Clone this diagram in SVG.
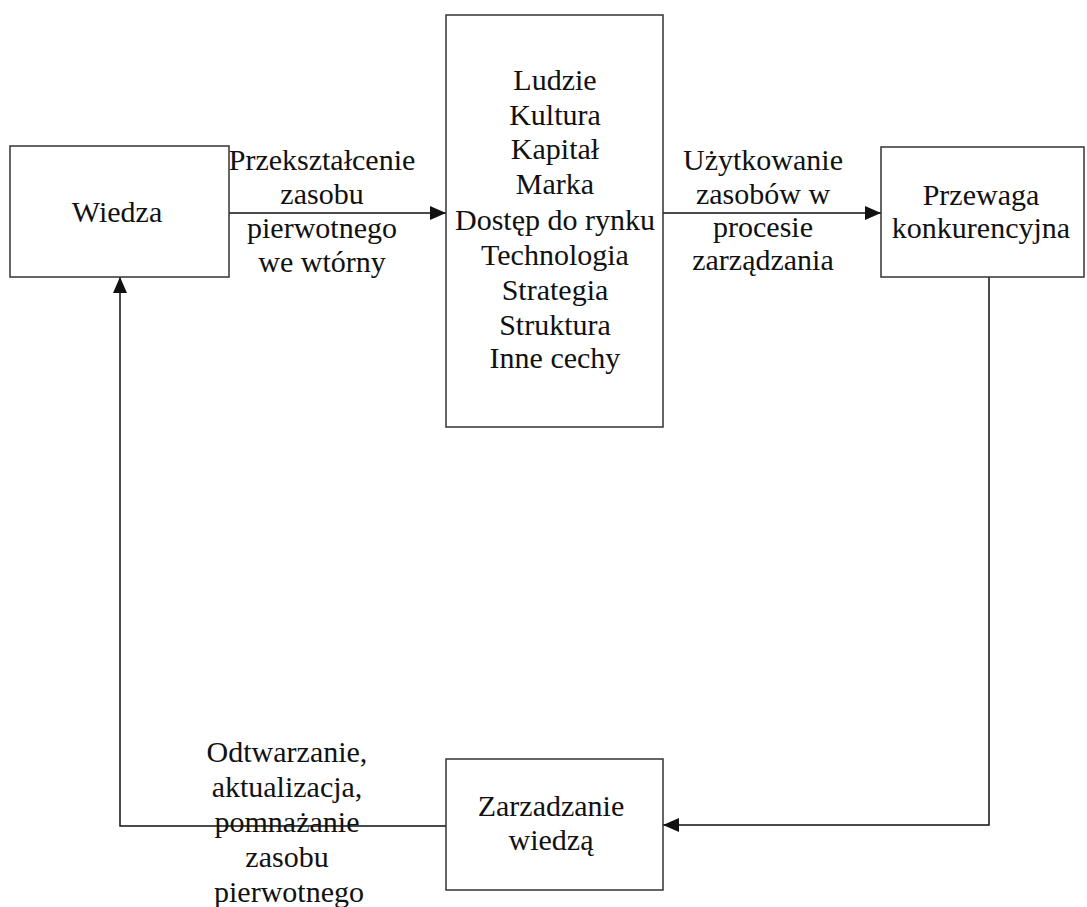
<svg xmlns="http://www.w3.org/2000/svg" width="1087" height="907" viewBox="0 0 1087 907">
  <style>
    .box { fill: #ffffff; stroke: #333333; stroke-width: 1.5; }
    .edge { fill: none; stroke: #111111; stroke-width: 1.5; }
    text { font-family: "Liberation Serif", "Times New Roman", serif; font-size: 30px; fill: #111111; text-anchor: middle; }
  </style>
  <defs>
    <marker id="arrow" markerUnits="userSpaceOnUse" markerWidth="16" markerHeight="14" refX="16" refY="7" orient="auto">
      <path d="M0,0 L16,7 L0,14 Z" fill="#111111"/>
    </marker>
  </defs>
  <rect width="1087" height="907" fill="#ffffff"/>

  <!-- connectors -->
  <g id="connectors">
    <line class="edge" x1="229" y1="213" x2="446" y2="213" marker-end="url(#arrow)"/>
    <line class="edge" x1="663" y1="213" x2="881" y2="213" marker-end="url(#arrow)"/>
    <polyline class="edge" points="989,277 989,825 663,825" marker-end="url(#arrow)"/>
    <polyline class="edge" points="446,826 120,826 120,277" marker-end="url(#arrow)"/>
  </g>

  <!-- edge labels -->
  <g id="label-transform">
    <text x="322" y="170">Przekształcenie</text>
    <text x="322" y="204">zasobu</text>
    <text x="322" y="238">pierwotnego</text>
    <text x="322" y="272">we wtórny</text>
  </g>
  <g id="label-use">
    <text x="763" y="170">Użytkowanie</text>
    <text x="763" y="204">zasobów w</text>
    <text x="763" y="237">procesie</text>
    <text x="763" y="270">zarządzania</text>
  </g>
  <g id="label-renew">
    <text x="287" y="762">Odtwarzanie,</text>
    <text x="287" y="797">aktualizacja,</text>
    <text x="287" y="832">pomnażanie</text>
    <text x="287" y="867">zasobu</text>
    <text x="289" y="902">pierwotnego</text>
  </g>

  <!-- nodes -->
  <g id="node-wiedza">
    <rect class="box" x="10" y="146" width="219" height="131"/>
    <text x="117" y="222">Wiedza</text>
  </g>
  <g id="node-zasoby">
    <rect class="box" x="446" y="15" width="217" height="412"/>
    <text x="555" y="90">Ludzie</text>
    <text x="555" y="125">Kultura</text>
    <text x="555" y="159">Kapitał</text>
    <text x="555" y="194">Marka</text>
    <text x="555" y="230">Dostęp do rynku</text>
    <text x="555" y="265">Technologia</text>
    <text x="555" y="300">Strategia</text>
    <text x="555" y="335">Struktura</text>
    <text x="555" y="368">Inne cechy</text>
  </g>
  <g id="node-przewaga">
    <rect class="box" x="881" y="147" width="203" height="130"/>
    <text x="981" y="205">Przewaga</text>
    <text x="981" y="238">konkurencyjna</text>
  </g>
  <g id="node-zarzadzanie">
    <rect class="box" x="446" y="759" width="217" height="131"/>
    <text x="551" y="816">Zarzadzanie</text>
    <text x="551" y="850">wiedzą</text>
  </g>
</svg>
